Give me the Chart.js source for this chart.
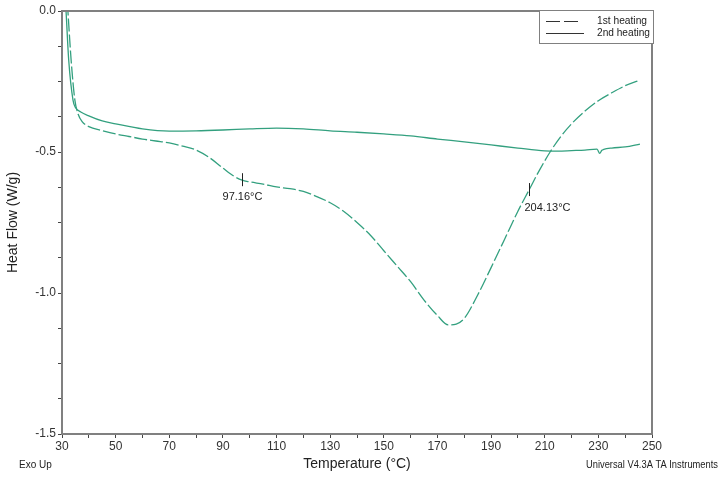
<!DOCTYPE html>
<html lang="en">
<head>
  <meta charset="UTF-8" />
  <title>DSC - Heat Flow</title>
  <script src="https://cdn.jsdelivr.net/npm/chart.js"></script>
  <style>
    * { box-sizing: border-box; margin: 0; padding: 0; }
    body { background: #fff; width: 722px; height: 477px; overflow: hidden; }
    #wrap { position: relative; width: 722px; height: 477px; }
  </style>
</head>
<body>
  <div id="wrap"><canvas id="dsc" width="722" height="477"></canvas></div>

  <script>
    // 1st heating (dashed)
    const temp1 = [32.0, 32.2, 33.4, 34.8, 36.0, 37.5, 40, 45, 50, 55, 60, 65, 70, 75, 80, 85, 90, 94, 97.16, 100, 105, 110, 115, 120, 125, 130, 135, 140, 145, 150, 155, 160, 165, 170, 174, 177, 180, 185, 190, 195, 200, 204.13, 208, 212, 216, 220, 225, 230, 235, 240, 245.5];
    const flow1 = [0.03, 0.0, -0.174, -0.316, -0.365, -0.392, -0.41, -0.424, -0.436, -0.445, -0.454, -0.461, -0.468, -0.479, -0.493, -0.52, -0.557, -0.585, -0.600, -0.606, -0.614, -0.624, -0.63, -0.64, -0.658, -0.68, -0.71, -0.75, -0.795, -0.85, -0.905, -0.96, -1.025, -1.08, -1.113, -1.11, -1.09, -1.007, -0.91, -0.81, -0.71, -0.635, -0.565, -0.5, -0.445, -0.4, -0.355, -0.318, -0.29, -0.265, -0.245];

    // 2nd heating (solid)
    const temp2 = [31.3, 31.5, 32.5, 34.1, 35.0, 37, 40, 45, 50, 60, 70, 80, 90, 100, 110, 120, 130, 140, 150, 160, 170, 180, 190, 200, 210, 215, 220, 225, 229.5, 230.5, 231.3, 232, 235, 240, 245.5];
    const flow2 = [0.03, 0.0, -0.174, -0.316, -0.342, -0.358, -0.372, -0.39, -0.40, -0.418, -0.426, -0.425, -0.422, -0.418, -0.415, -0.418, -0.425, -0.43, -0.436, -0.443, -0.454, -0.464, -0.475, -0.486, -0.496, -0.497, -0.495, -0.493, -0.490, -0.505, -0.494, -0.491, -0.486, -0.482, -0.472];

    // transition marks
    const markTemps = [97.16, 204.13];
    const markLabels = ['97.16°C', '204.13°C'];

    const lineColor = '#33a07f';
    const axisColor = '#808080';
    const fontFamily = '"Liberation Sans", Arial, sans-serif';

    const toPoints = (xs, ys) => xs.map((t, i) => ({ x: t, y: ys[i] }));

    // frame, legend, marks and footer texts
    const decorPlugin = {
      id: 'decor',
      afterDraw(chart) {
        const ctx = chart.ctx;
        const area = chart.chartArea;
        const xs = chart.scales.x;
        const ys = chart.scales.y;
        ctx.save();

        // frame
        ctx.strokeStyle = axisColor;
        ctx.lineWidth = 2;
        ctx.beginPath();
        ctx.moveTo(area.left, area.top);
        ctx.lineTo(area.right, area.top);
        ctx.lineTo(area.right, area.bottom);
        ctx.stroke();

        // transition marks
        ctx.strokeStyle = '#222';
        ctx.lineWidth = 1;
        ctx.fillStyle = '#222';
        ctx.font = '11px ' + fontFamily;
        markTemps.forEach((t, i) => {
          let j = temp1.findIndex(v => v >= t);
          const yv = flow1[j];
          const px = Math.round(xs.getPixelForValue(t)) + 0.5;
          const py = ys.getPixelForValue(yv);
          ctx.beginPath();
          ctx.moveTo(px, py - 7);
          ctx.lineTo(px, py + 6);
          ctx.stroke();
          ctx.textBaseline = 'middle';
          if (i === 0) {
            ctx.textAlign = 'center';
            ctx.fillText(markLabels[i], px, py + 17);
          } else {
            ctx.textAlign = 'left';
            ctx.fillText(markLabels[i], px - 5, py + 18);
          }
        });

        // legend box
        const lx = 539, ly = 10, lw = 114, lh = 33;
        ctx.fillStyle = '#fff';
        ctx.fillRect(lx, ly, lw, lh);
        ctx.strokeStyle = axisColor;
        ctx.lineWidth = 1;
        ctx.strokeRect(lx + 0.5, ly + 0.5, lw, lh);
        ctx.strokeStyle = '#333';
        ctx.beginPath();
        ctx.setLineDash([14, 4]);
        ctx.moveTo(546, 21.5);
        ctx.lineTo(582, 21.5);
        ctx.stroke();
        ctx.setLineDash([]);
        ctx.beginPath();
        ctx.moveTo(546, 33.5);
        ctx.lineTo(584, 33.5);
        ctx.stroke();
        ctx.fillStyle = '#222';
        ctx.textAlign = 'left';
        ctx.textBaseline = 'middle';
        ctx.font = '11px ' + fontFamily;
        ctx.fillText('1st heating', 597, 21, 50);
        ctx.fillText('2nd heating', 597, 33, 53);

        // footer texts
        ctx.font = '10px ' + fontFamily;
        ctx.fillStyle = '#222';
        ctx.textAlign = 'left';
        ctx.fillText('Exo Up', 19, 465);
        ctx.textAlign = 'right';
        ctx.fillText('Universal V4.3A TA Instruments', 718, 465, 132);
        ctx.restore();
      }
    };

    new Chart(document.getElementById('dsc'), {
      type: 'line',
      data: {
        datasets: [
          {
            label: '1st heating',
            data: toPoints(temp1, flow1),
            borderColor: lineColor,
            borderWidth: 1.3,
            borderDash: [13, 3],
            pointRadius: 0,
            cubicInterpolationMode: 'monotone'
          },
          {
            label: '2nd heating',
            data: toPoints(temp2, flow2),
            borderColor: lineColor,
            borderWidth: 1.3,
            pointRadius: 0,
            cubicInterpolationMode: 'monotone'
          }
        ]
      },
      options: {
        responsive: false,
        animation: false,
        layout: { padding: { left: 0, top: 11, right: 70, bottom: 0 } },
        plugins: { legend: { display: false }, tooltip: { enabled: false } },
        scales: {
          x: {
            type: 'linear',
            min: 30,
            max: 250,
            afterFit: s => { s.height = 43; },
            border: { color: axisColor, width: 2 },
            grid: { drawOnChartArea: false, tickLength: 4, color: '#444' },
            ticks: {
              stepSize: 10,
              autoSkip: false,
              maxRotation: 0,
              padding: 1,
              color: '#333',
              font: { family: fontFamily, size: 12 },
              callback: v => (v % 20 === 10 ? String(v) : '')
            },
            title: {
              display: true,
              text: 'Temperature (°C)',
              color: '#222',
              font: { family: fontFamily, size: 14 },
              padding: { top: 2 }
            }
          },
          y: {
            min: -1.5,
            max: 0,
            afterFit: s => { s.width = 62; },
            border: { color: axisColor, width: 2 },
            grid: { drawOnChartArea: false, tickLength: 4, color: '#444' },
            ticks: {
              stepSize: 0.125,
              autoSkip: false,
              padding: 2,
              color: '#333',
              font: { family: fontFamily, size: 12 },
              callback: v => (Math.abs(v * 2 - Math.round(v * 2)) < 1e-6 ? (Math.abs(v) < 1e-9 ? '0.0' : v.toFixed(1)) : '')
            },
            title: {
              display: true,
              text: 'Heat Flow (W/g)',
              color: '#222',
              font: { family: fontFamily, size: 14 },
              padding: { top: 5 }
            }
          }
        }
      },
      plugins: [decorPlugin]
    });
  </script>
</body>
</html>
